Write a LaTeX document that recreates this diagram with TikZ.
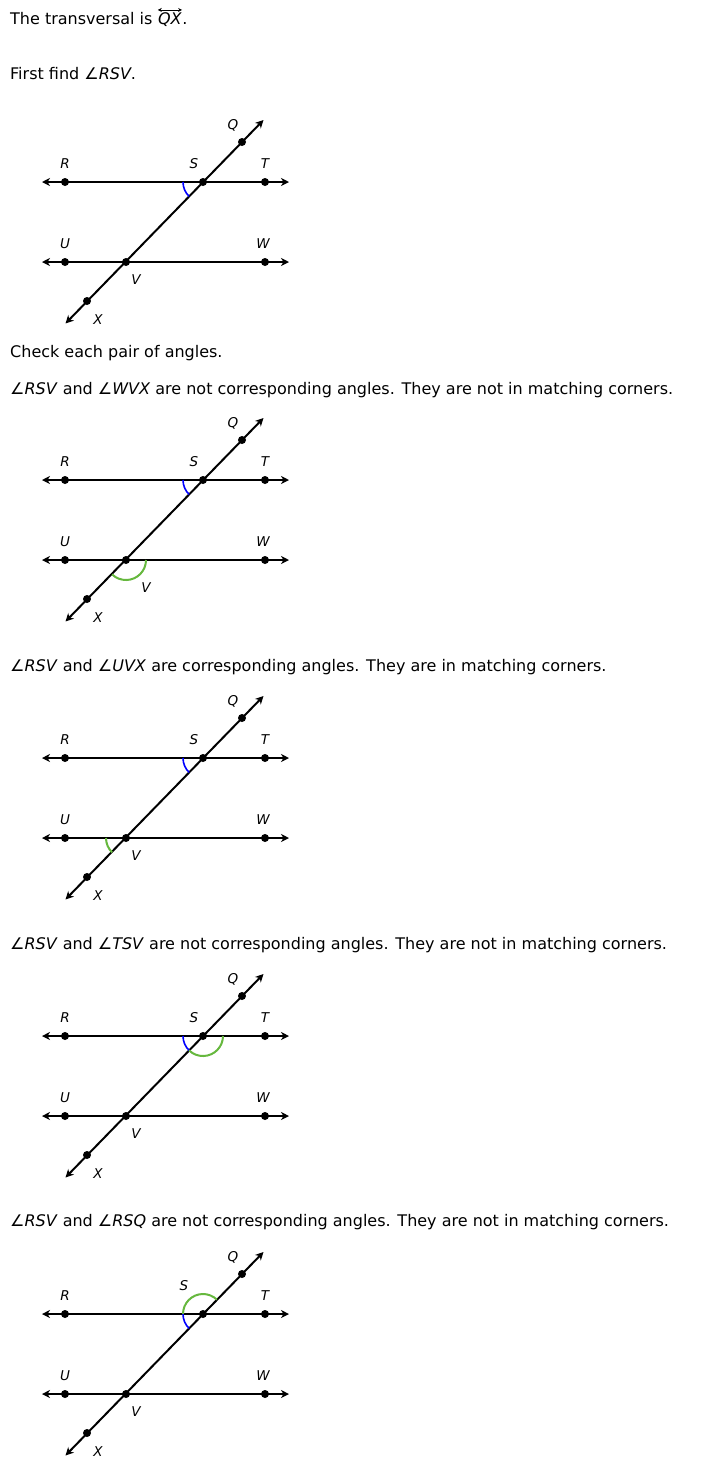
\documentclass[tikz,border=0pt]{standalone}
\usepackage{fontspec}
\setmainfont{DejaVu Sans}
\usetikzlibrary{arrows.meta}
\definecolor{ggreen}{RGB}{102,184,62}
\definecolor{bblue}{RGB}{0,0,255}
\newcommand\figdraw[4]{% #1 offset, #2 prefix, #3 V label pos, #4 S label pos
\begin{scope}[shift={(0,-#1)}]
  \coordinate (#2R) at (65,-182);
  \coordinate (#2S) at (203,-182);
  \coordinate (#2T) at (265,-182);
  \coordinate (#2U) at (65,-262);
  \coordinate (#2V) at (126,-262);
  \coordinate (#2W) at (265,-262);
  \coordinate (#2Q) at (242,-142);
  \coordinate (#2X) at (87,-301);
  \coordinate (#2a) at (42,-182);
  \coordinate (#2b) at (289,-182);
  \coordinate (#2c) at (42,-262);
  \coordinate (#2d) at (289,-262);
  \coordinate (#2e) at (263.5,-120);
  \coordinate (#2f) at (65.5,-323.5);
  \draw[ln] (#2a) -- (#2b);
  \draw[ln] (#2c) -- (#2d);
  \draw[ln] (#2f) -- (#2e);
  \draw[blu] ([shift={(180:20)}]#2S) arc[start angle=180, end angle=226, radius=20];
  \node[lbl] (#2lQ) at (233,-125) {Q};
  \node[lbl] (#2lR) at (65,-164) {R};
  \node[lbl] (#2lS) at #4 {S};
  \node[lbl] (#2lT) at (265,-164) {T};
  \node[lbl] (#2lU) at (65,-244) {U};
  \node[lbl] (#2lW) at (263,-244) {W};
  \node[lbl] (#2lV) at #3 {V};
  \node[lbl] (#2lX) at (98,-320) {X};
\end{scope}}
\newcommand\figdots[1]{%
  \foreach \p in {R,S,T,U,V,W,Q,X} {\node[pt] at (#1\p) {};}}
\begin{document}
\begin{tikzpicture}[x=1pt,y=1pt,
  txt/.style={anchor=base west, inner sep=0pt, font=\fontsize{16}{19}\selectfont},
  lbl/.style={inner sep=0pt, font=\fontsize{13.5}{16}\selectfont\itshape},
  ln/.style={line width=2pt, {Stealth[length=8pt,width=8pt,inset=2.5pt]}-{Stealth[length=8pt,width=8pt,inset=2.5pt]}},
  pt/.style={circle, fill=black, inner sep=0pt, minimum size=8pt},
  blu/.style={draw=bblue, line width=1.6pt},
  grn/.style={draw=ggreen, line width=2pt}]
\useasboundingbox (0,0) rectangle (718,-1470);
\fill[white] (0,0) rectangle (718,-1470);

\node[txt] (t1) at (10,-24) {The transversal is};
\node[txt] (qx) at ([xshift=5.1pt]t1.base east) {\textit{QX}};
\node[txt] (t1b) at (qx.base east) {.};
\draw[line width=0.8pt, {Stealth[length=4pt,width=4pt]}-{Stealth[length=4pt,width=4pt]}]
  ([shift={(0,2)}]qx.north west) -- ([shift={(0,2)}]qx.north east);

\node[txt] (t2) at (10,-79) {First find ∠\textit{RSV}.};

\figdraw{0}{A}{(136,-280)}{(194,-164)}
\figdots{A}

\node[txt] (t3) at (10,-357) {Check each pair of angles.};
\node[txt] (t4) at (10,-394) {∠\textit{RSV} and ∠\textit{WVX} are not corresponding angles. They are not in matching corners.};

\figdraw{298}{B}{(146,-290)}{(194,-164)}
\draw[grn] ([shift={(226:20)}]BV) arc[start angle=226, end angle=360, radius=20];
\figdots{B}

\node[txt] (t5) at (10,-671) {∠\textit{RSV} and ∠\textit{UVX} are corresponding angles. They are in matching corners.};

\figdraw{576}{C}{(136,-280)}{(194,-164)}
\draw[grn] ([shift={(180:20)}]CV) arc[start angle=180, end angle=226, radius=20];
\figdots{C}

\node[txt] (t6) at (10,-949) {∠\textit{RSV} and ∠\textit{TSV} are not corresponding angles. They are not in matching corners.};

\figdraw{854}{D}{(136,-280)}{(194,-164)}
\draw[grn] ([shift={(226:20)}]DS) arc[start angle=226, end angle=360, radius=20];
\figdots{D}

\node[txt] (t7) at (10,-1226) {∠\textit{RSV} and ∠\textit{RSQ} are not corresponding angles. They are not in matching corners.};

\figdraw{1132}{E}{(136,-280)}{(184,-154)}
\draw[grn] ([shift={(46:20)}]ES) arc[start angle=46, end angle=180, radius=20];
\figdots{E}
\end{tikzpicture}
\end{document}
